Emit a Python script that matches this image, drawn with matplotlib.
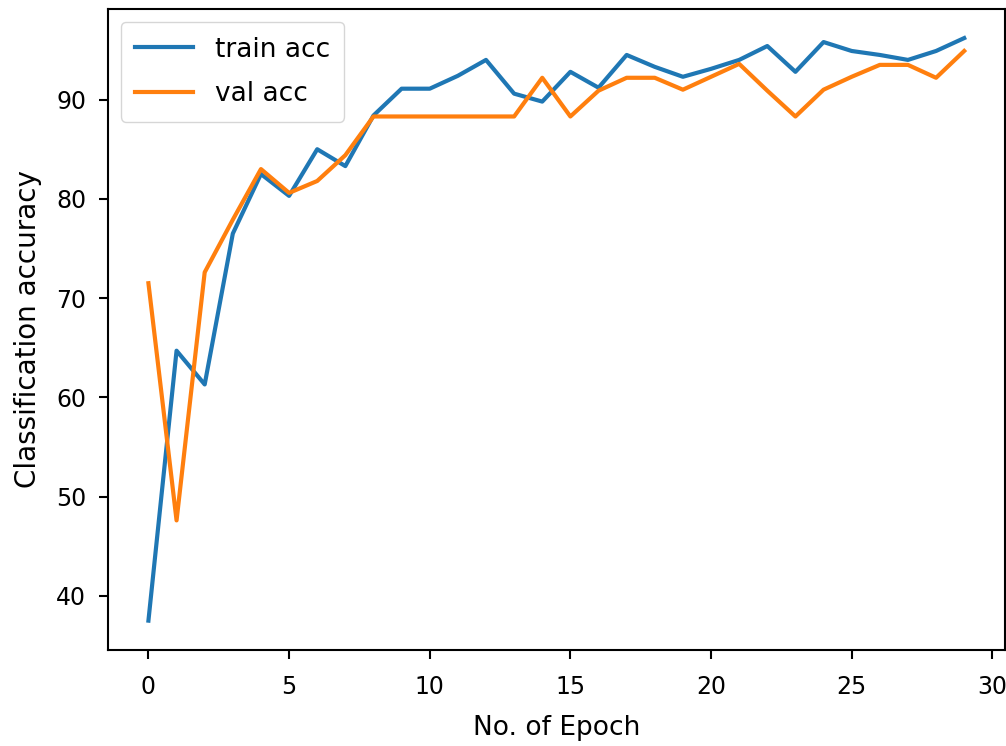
import numpy as np
import matplotlib
matplotlib.use('Agg')
import matplotlib.pyplot as plt

# valores
epochs = np.arange(30)
train_acc = [37.5, 64.7, 61.3, 76.5, 82.5, 80.3, 85.0, 83.3, 88.4, 91.1,
             91.1, 92.4, 94.0, 90.6, 89.8, 92.8, 91.2, 94.5, 93.3, 92.3,
             93.1, 94.0, 95.4, 92.8, 95.8, 94.9, 94.5, 94.0, 94.9, 96.2]
val_acc = [71.5, 47.6, 72.6, 77.9, 83.0, 80.6, 81.8, 84.4, 88.3, 88.3,
           88.3, 88.3, 88.3, 88.3, 92.2, 88.3, 90.9, 92.2, 92.2, 91.0,
           92.3, 93.6, 90.9, 88.3, 91.0, 92.3, 93.5, 93.5, 92.2, 94.9]

plt.rcParams['font.family'] = 'DejaVu Sans'
plt.rcParams['font.size'] = 17
plt.rcParams['axes.linewidth'] = 1.5
plt.rcParams['xtick.major.width'] = 1.5
plt.rcParams['ytick.major.width'] = 1.5
plt.rcParams['xtick.major.size'] = 6.5
plt.rcParams['ytick.major.size'] = 6.5
plt.rcParams['xtick.major.pad'] = 12
plt.rcParams['ytick.major.pad'] = 9

fig = plt.figure(figsize=(10.06, 7.46), dpi=100)
ax = fig.add_axes([0.107, 0.129, 0.892, 0.859])
ax.plot(epochs, train_acc, label='train acc', linewidth=3)
ax.plot(epochs, val_acc, label='val acc', linewidth=3)
ax.set_xlabel('No. of Epoch', fontsize=19, labelpad=11)
ax.set_ylabel('Classification accuracy', fontsize=20, labelpad=10)
ax.set_xticks([0, 5, 10, 15, 20, 25, 30])
ax.legend(loc='upper left', fontsize=19, handlelength=2.2,
          labelspacing=0.7, borderpad=0.55, borderaxespad=0.5)

fig.savefig('out.png', dpi=100)
